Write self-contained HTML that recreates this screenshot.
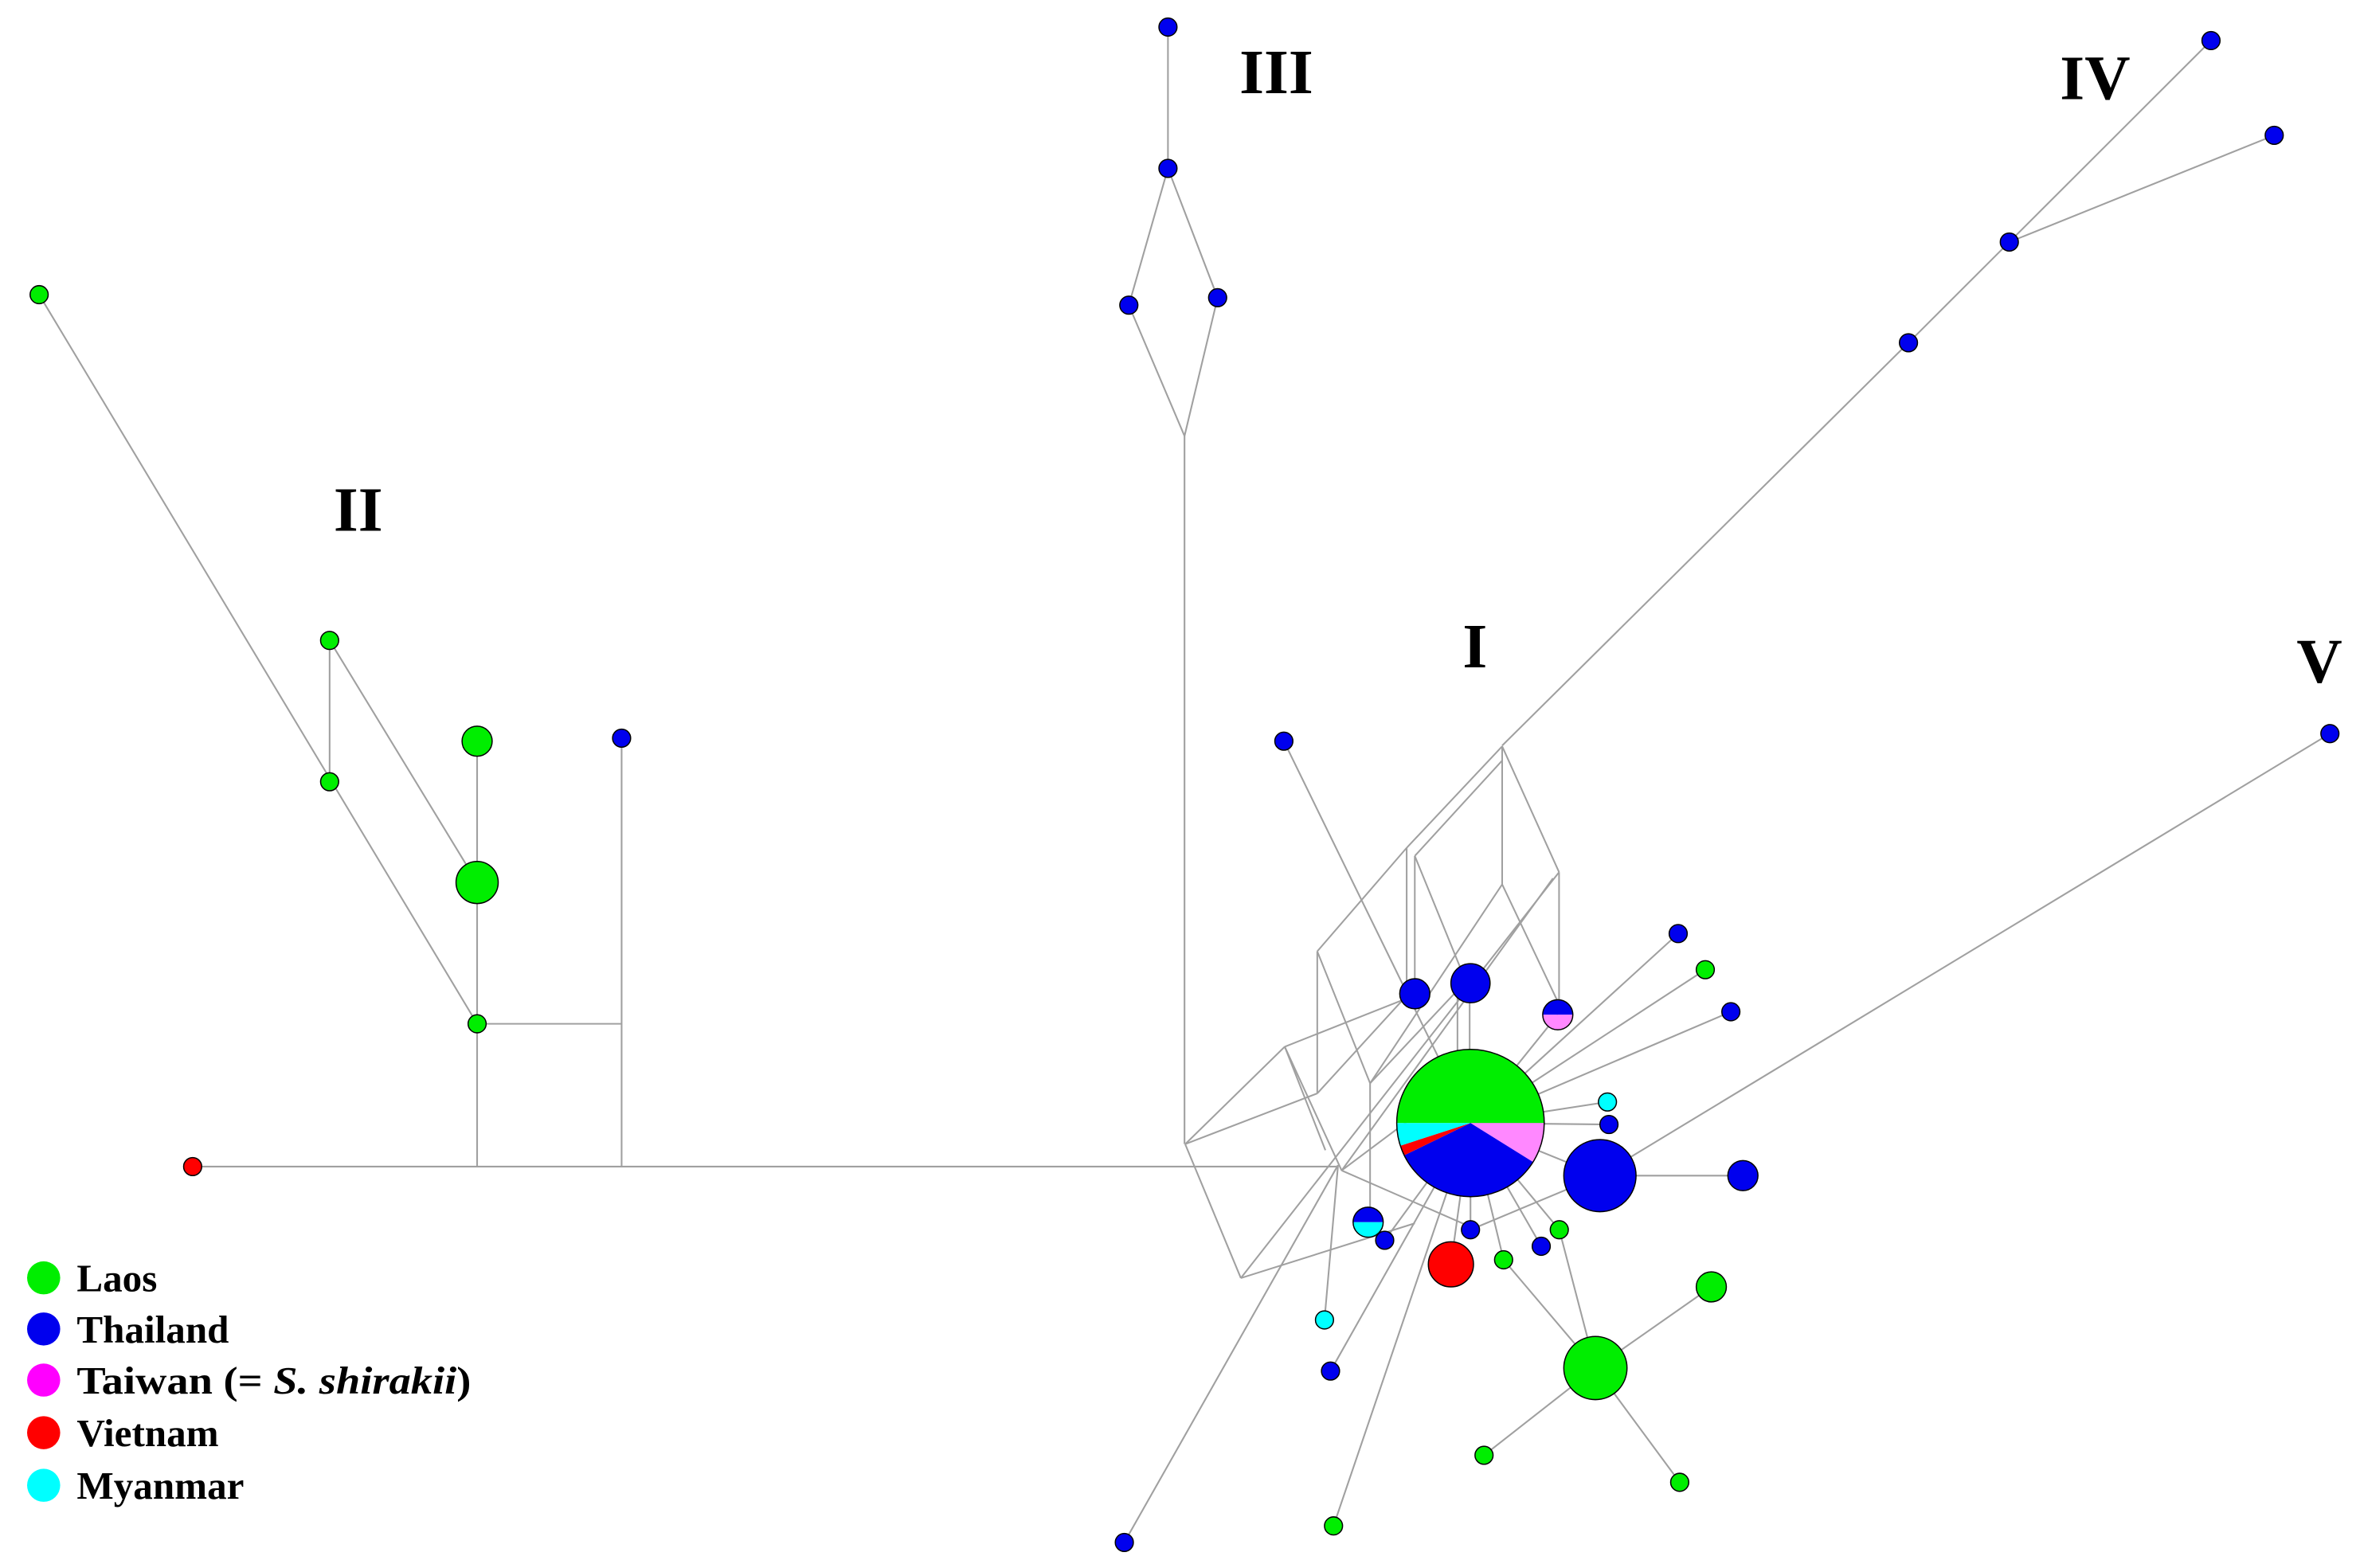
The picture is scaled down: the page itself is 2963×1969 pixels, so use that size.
<!DOCTYPE html>
<html><head><meta charset="utf-8"><style>html,body{margin:0;padding:0;background:#fff;}svg{display:block;}</style></head>
<body>
<svg width="2963" height="1969" viewBox="0 0 1568 1043" preserveAspectRatio="none" xmlns="http://www.w3.org/2000/svg">
<g stroke="#a0a0a0" stroke-width="1.1" fill="none">
<!-- II -->
<line x1="26" y1="196" x2="317" y2="681"/>
<line x1="219" y1="426" x2="219" y2="520"/>
<line x1="219" y1="426" x2="317" y2="587"/>
<line x1="317" y1="493" x2="317" y2="776"/>
<line x1="317" y1="681" x2="413" y2="681"/>
<line x1="413" y1="491" x2="413" y2="776"/>
<line x1="128" y1="776" x2="889" y2="776"/>
<!-- III -->
<line x1="776" y1="18" x2="776" y2="112"/>
<line x1="776" y1="112" x2="750" y2="203"/>
<line x1="776" y1="112" x2="809" y2="198"/>
<line x1="750" y1="203" x2="787" y2="290"/>
<line x1="809" y1="198" x2="787" y2="290"/>
<line x1="787" y1="290" x2="787" y2="761"/>
<!-- IV -->
<line x1="1469" y1="27" x2="1335" y2="161"/>
<line x1="1511" y1="90" x2="1335" y2="161"/>
<line x1="1335" y1="161" x2="1268" y2="228"/>
<line x1="1268" y1="228" x2="998" y2="496"/>
<!-- V -->
<line x1="1548" y1="488" x2="1063" y2="782"/>
<line x1="1158" y1="782" x2="1063" y2="782"/>
<!-- spokes from pie -->
<line x1="977" y1="747" x2="1115" y2="621"/>
<line x1="977" y1="747" x2="1133" y2="645"/>
<line x1="977" y1="747" x2="1150" y2="673"/>
<line x1="977" y1="747" x2="1068" y2="733"/>
<line x1="977" y1="747" x2="1069" y2="748"/>
<line x1="977" y1="747" x2="1063" y2="782"/>
<line x1="977" y1="747" x2="1035" y2="675"/>
<line x1="977" y1="747" x2="977" y2="818"/>
<line x1="977" y1="747" x2="964" y2="841"/>
<line x1="977" y1="747" x2="1024" y2="829"/>
<line x1="977" y1="747" x2="1036" y2="818"/>
<line x1="977" y1="747" x2="999" y2="838"/>
<line x1="977" y1="747" x2="920" y2="825"/>
<line x1="977" y1="747" x2="884" y2="912"/>
<line x1="977" y1="747" x2="886" y2="1015"/>
<line x1="889" y1="775" x2="747" y2="1026"/>
<line x1="889" y1="775" x2="880" y2="878"/>
<line x1="1060" y1="910" x2="999" y2="838"/>
<line x1="1060" y1="910" x2="1036" y2="818"/>
<line x1="1060" y1="910" x2="1137" y2="856"/>
<line x1="1060" y1="910" x2="986" y2="968"/>
<line x1="1060" y1="910" x2="1116" y2="986"/>
<line x1="853" y1="493" x2="977" y2="747"/>
<line x1="1063" y1="782" x2="977" y2="818"/>
</g>
<!-- reticulated complex (zoom coords) -->
<g transform="translate(767.2,476.2) scale(0.27)" stroke="#a0a0a0" stroke-width="4" fill="none">
<line x1="75" y1="1055" x2="320" y2="815"/>
<line x1="75" y1="1055" x2="212" y2="1385"/>
<line x1="75" y1="1055" x2="400" y2="930"/>
<line x1="320" y1="815" x2="610" y2="700"/>
<line x1="320" y1="815" x2="460" y2="1120"/>
<line x1="400" y1="580" x2="400" y2="930"/>
<line x1="400" y1="580" x2="620" y2="325"/>
<line x1="400" y1="580" x2="530" y2="905"/>
<line x1="620" y1="325" x2="620" y2="690"/>
<line x1="640" y1="345" x2="640" y2="690"/>
<line x1="620" y1="325" x2="855" y2="75"/>
<line x1="640" y1="345" x2="855" y2="110"/>
<line x1="855" y1="75" x2="855" y2="415"/>
<line x1="855" y1="75" x2="995" y2="385"/>
<line x1="995" y1="385" x2="995" y2="720"/>
<line x1="855" y1="415" x2="530" y2="905"/>
<line x1="855" y1="415" x2="990" y2="700"/>
<line x1="995" y1="385" x2="212" y2="1385"/>
<line x1="980" y1="400" x2="460" y2="1120"/>
<line x1="530" y1="905" x2="530" y2="1215"/>
<line x1="640" y1="345" x2="760" y2="640"/>
<line x1="745" y1="660" x2="745" y2="830"/>
<line x1="775" y1="700" x2="775" y2="830"/>
<line x1="212" y1="1385" x2="640" y2="1250"/>
<line x1="460" y1="1120" x2="780" y2="1260"/>
<line x1="400" y1="930" x2="610" y2="700"/>
<line x1="530" y1="905" x2="760" y2="660"/>
<line x1="460" y1="1120" x2="620" y2="1000"/>
<line x1="320" y1="815" x2="420" y2="1070"/>
</g>
<!-- nodes -->
<g stroke="#000" stroke-width="0.8">
<circle cx="26" cy="196" r="6" fill="#00ee00"/>
<circle cx="219" cy="426" r="6" fill="#00ee00"/>
<circle cx="219" cy="520" r="6" fill="#00ee00"/>
<circle cx="317" cy="493" r="10" fill="#00ee00"/>
<circle cx="317" cy="587" r="14" fill="#00ee00"/>
<circle cx="317" cy="681" r="6" fill="#00ee00"/>
<circle cx="413" cy="491" r="6" fill="#0000ee"/>
<circle cx="128" cy="776" r="6" fill="#ff0000"/>
<circle cx="776" cy="18" r="6" fill="#0000ee"/>
<circle cx="776" cy="112" r="6" fill="#0000ee"/>
<circle cx="750" cy="203" r="6" fill="#0000ee"/>
<circle cx="809" cy="198" r="6" fill="#0000ee"/>
<circle cx="1469" cy="27" r="6" fill="#0000ee"/>
<circle cx="1511" cy="90" r="6" fill="#0000ee"/>
<circle cx="1335" cy="161" r="6" fill="#0000ee"/>
<circle cx="1268" cy="228" r="6" fill="#0000ee"/>
<circle cx="1548" cy="488" r="6" fill="#0000ee"/>
<circle cx="853" cy="493" r="6" fill="#0000ee"/>
<circle cx="940" cy="661" r="10" fill="#0000ee"/>
<circle cx="977" cy="654" r="13" fill="#0000ee"/>
<circle cx="1115" cy="621" r="6" fill="#0000ee"/>
<circle cx="1133" cy="645" r="6" fill="#00ee00"/>
<circle cx="1150" cy="673" r="6" fill="#0000ee"/>
<circle cx="1068" cy="733" r="6" fill="#00ffff"/>
<circle cx="1069" cy="748" r="6" fill="#0000ee"/>
<circle cx="1063" cy="782" r="24" fill="#0000ee"/>
<circle cx="1158" cy="782" r="10" fill="#0000ee"/>
<circle cx="920" cy="825" r="6" fill="#0000ee"/>
<circle cx="977" cy="818" r="6" fill="#0000ee"/>
<circle cx="964" cy="841" r="15" fill="#ff0000"/>
<circle cx="999" cy="838" r="6" fill="#00ee00"/>
<circle cx="1024" cy="829" r="6" fill="#0000ee"/>
<circle cx="1036" cy="818" r="6" fill="#00ee00"/>
<circle cx="1060" cy="910" r="21" fill="#00ee00"/>
<circle cx="1137" cy="856" r="10" fill="#00ee00"/>
<circle cx="986" cy="968" r="6" fill="#00ee00"/>
<circle cx="1116" cy="986" r="6" fill="#00ee00"/>
<circle cx="880" cy="878" r="6" fill="#00ffff"/>
<circle cx="884" cy="912" r="6" fill="#0000ee"/>
<circle cx="747" cy="1026" r="6" fill="#0000ee"/>
<circle cx="886" cy="1015" r="6" fill="#00ee00"/>
</g>
<!-- half nodes -->
<g stroke="none">
<path d="M1025,675 A10,10 0 0 1 1045,675 Z" fill="#0000ee"/>
<path d="M1025,675 A10,10 0 0 0 1045,675 Z" fill="#ff88ff"/>
<path d="M899,813 A10,10 0 0 1 919,813 Z" fill="#0000ee"/>
<path d="M899,813 A10,10 0 0 0 919,813 Z" fill="#00ffff"/>
</g>
<circle cx="1035" cy="675" r="10" fill="none" stroke="#000" stroke-width="0.8"/>
<circle cx="909" cy="813" r="10" fill="none" stroke="#000" stroke-width="0.8"/>
<!-- pie -->
<g stroke="none">
<path d="M977,747 L928,747 A49,49 0 0 1 1026,747 Z" fill="#00ee00"/>
<path d="M977,747 L1026,747 A49,49 0 0 1 1018.6,773 Z" fill="#ff88ff"/>
<path d="M977,747 L1018.6,773 A49,49 0 0 1 933,768.5 Z" fill="#0000ee"/>
<path d="M977,747 L933,768.5 A49,49 0 0 1 930.4,762.1 Z" fill="#ff0000"/>
<path d="M977,747 L930.4,762.1 A49,49 0 0 1 928,747 Z" fill="#00ffff"/>
</g>
<circle cx="977" cy="747" r="49" fill="none" stroke="#000" stroke-width="0.8"/>
<!-- labels -->
<g font-family="'Liberation Serif', serif" font-weight="bold" font-size="42" fill="#000" text-anchor="middle">
<text x="238" y="353">II</text>
<text x="848" y="62">III</text>
<text x="1392" y="66">IV</text>
<text x="980" y="444">I</text>
<text x="1541" y="454">V</text>
</g>
<!-- legend -->
<g stroke="none">
<circle cx="29" cy="850" r="11" fill="#00ee00"/>
<circle cx="29" cy="884" r="11" fill="#0000ee"/>
<circle cx="29" cy="918" r="11" fill="#ff00ff"/>
<circle cx="29" cy="953" r="11" fill="#ff0000"/>
<circle cx="29" cy="988" r="11" fill="#00ffff"/>
</g>
<g font-family="'Liberation Serif', serif" font-weight="bold" font-size="26" fill="#000">
<text x="51" y="859">Laos</text>
<text x="51" y="893">Thailand</text>
<text x="51" y="927" textLength="262" lengthAdjust="spacingAndGlyphs">Taiwan (= <tspan font-style="italic">S. shirakii</tspan>)</text>
<text x="51" y="962">Vietnam</text>
<text x="51" y="997">Myanmar</text>
</g>
</svg>
</body></html>
